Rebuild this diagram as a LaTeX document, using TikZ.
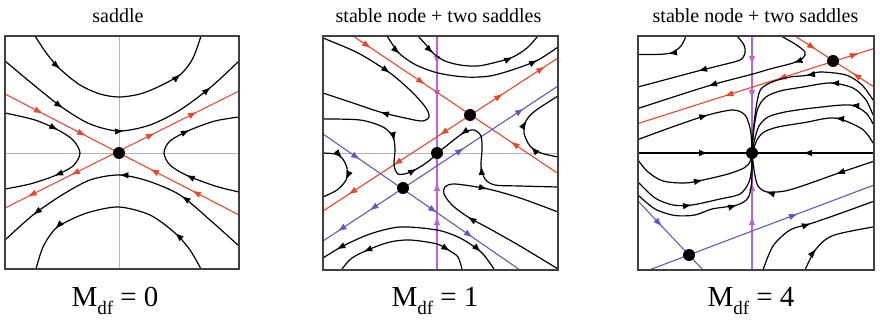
\documentclass[tikz,border=0pt]{standalone}
\usepackage{fontspec}
\setmainfont{Liberation Serif}
\usetikzlibrary{arrows.meta, decorations.markings}
\definecolor{sepRed}{HTML}{E8472B}
\definecolor{sepBlue}{HTML}{6A55C0}
\definecolor{invPurple}{HTML}{B864D4}

\begin{document}
\begin{tikzpicture}[x=1pt, y=-1pt,
  tipf/.style={decoration={markings, mark=at position #1 with {\arrow{Latex[length=9pt, width=6.5pt]}}}},
  tipb/.style={decoration={markings, mark=at position #1 with {\arrow{Latex[reversed, length=9pt, width=6.5pt]}}}},
  fw/.style={postaction={decorate, decoration={markings, reset marks}, tipf/.list={#1}}},
  bw/.style={postaction={decorate, decoration={markings, reset marks}, tipb/.list={#1}}},
  frame/.style={draw=black!75, line width=1.4pt},
  axis/.style={draw=black!28, line width=0.9pt},
  traj/.style={draw=black, line width=1.2pt},
  sepr/.style={draw=sepRed, line width=1.1pt},
  sepb/.style={draw=sepBlue, line width=1.1pt},
  inv/.style={draw=invPurple, line width=1.1pt},
  fp/.style={circle, fill=black, inner sep=0pt, minimum size=12pt},
  ttl/.style={anchor=base, font=\fontsize{20}{24}\selectfont},
  lbl/.style={anchor=base, font=\fontsize{29}{34}\selectfont}
]
\useasboundingbox (0,0) rectangle (880,320);

\node[ttl] (t1) at (118,22.5)   {saddle};
\node[ttl] (t2) at (438.5,22.5) {stable node + two saddles};
\node[ttl] (t3) at (755.5,22.5) {stable node + two saddles};
\node[lbl] (m1) at (115,306) {M\raisebox{-0.3em}{\fontsize{19}{19}\selectfont df} = 0};
\node[lbl] (m2) at (435,306) {M\raisebox{-0.3em}{\fontsize{19}{19}\selectfont df} = 1};
\node[lbl] (m3) at (751,306) {M\raisebox{-0.3em}{\fontsize{19}{19}\selectfont df} = 4};

% saddle
\draw[axis] (119,36) -- (119,269);
\draw[axis] (5,153) -- (239,153);
\draw[sepr, fw={0.162,0.346}, bw={0.654,0.833}] (5,94) -- (239,215);
\draw[sepr, fw={0.641,0.821}, bw={0.132,0.316}] (5,208) -- (239,91);
\draw[traj, fw={0.19,0.80}] plot[smooth] coordinates {(35,36) (47,54) (60,69) (80,85) (100,94) (119,97) (140,94) (160,86) (181,74) (193,58) (201,36)};
\draw[traj, fw={0.269,0.507,0.862}] plot[smooth] coordinates {(5,61) (35,86) (63,108) (90,124) (119,131) (150,125) (180,110) (211,87) (239,61)};
\draw[traj, fw={0.318,0.711}] plot[smooth] coordinates {(5,113) (35,120) (58,130) (73,140) (80,153) (73,166) (54,176) (30,184) (5,189)};
\draw[traj, fw={0.318,0.709}] plot[smooth] coordinates {(239,192) (215,186) (186,175) (170,165) (164,153) (170,141) (190,130) (215,121) (239,117)};
\draw[traj, fw={0.275,0.514,0.864}] plot[smooth] coordinates {(239,246) (210,220) (180,195) (148,181) (119,175) (90,180) (62,195) (33,215) (5,240)};
\draw[traj, fw={0.203,0.797}] plot[smooth] coordinates {(201,269) (190,250) (175,233) (150,215) (119,207) (90,212) (70,220) (55,229) (43,247) (36,269)};
\draw[frame] (5,36) rectangle (239,269);
\node[fp] (s0) at (119,153) {};

% Mdf = 1
\draw[axis] (323,153) -- (558,153);
\draw[inv, fw={0.124,0.269}, bw={0.662,0.808}] (437,36) -- (437,270);
\draw[sepr, fw={0.088,0.351}, bw={0.805}] (353,36) -- (558,173.5);
\draw[sepr, fw={0.766,0.945}, bw={0.14,0.332,0.528}] (323,211) -- (558,58);
\draw[sepb, fw={0.6,0.855}, bw={0.094,0.23}] (323,241) -- (558,86);
\draw[sepb, fw={0.188,0.579,0.761}] (323,134) -- (520,270);
\draw[traj, fw={0.307,0.757}] plot[smooth] coordinates {(323,38) (358,53) (390,73) (412,92) (426,108) (429,117) (422,121) (405,118) (380,112) (350,102) (323,93)};
\draw[traj, fw={0.50,0.84}] plot[smooth] coordinates {(323,119) (360,120) (383,127) (393,137) (395,150) (394,165) (398,174) (408,173) (420,167) (430,160) (437,153)};
\draw[traj, fw={0.165,0.765}] plot[smooth] coordinates {(418,36) (428,47) (434,54) (445,61) (460,65) (478,66) (497,62) (513,57) (527,48) (538,36)};
\draw[traj, fw={0.115,0.875}] plot[smooth] coordinates {(387,36) (395,48) (401,55) (416,65) (438,73) (465,77) (490,76) (515,69) (538,60) (558,47)};
\draw[traj, fw={0.514,0.83}] plot[smooth] coordinates {(558,187) (520,186) (495,185) (485,179) (481,166) (482,150) (481,136) (474,130) (465,132) (455,139) (445,147) (437,153)};
\draw[traj, fw={0.30,0.59}] plot[smooth] coordinates {(558,157) (541,153) (530,146) (524,133) (526,121) (535,111) (558,96)};
\draw[traj, fw={0.397,0.719}] plot[smooth] coordinates {(558,269) (520,246) (490,229) (468,217) (452,205) (444,194) (445,187) (455,184) (488,189) (520,198) (558,212)};
\draw[traj, bw={0.13}, fw={0.888}] plot[smooth] coordinates {(323,258) (343,246) (370,234) (400,227) (437,230) (460,238) (481,252) (494,269)};
\draw[traj, bw={0.26}, fw={0.84}] plot[smooth] coordinates {(342,269) (352,258) (370,249) (390,242) (410,240) (437,244) (450,251) (458,257) (462,269)};
\draw[traj, fw={0.277,0.597}] plot[smooth] coordinates {(323,153) (335,154) (342,158) (347,168) (346,180) (337,190) (323,197)};
\draw[frame] (323,36) rectangle (558,270);
\node[fp] (s1) at (470,115) {};
\node[fp] (n1) at (437,153) {};
\node[fp] (s2) at (403,188) {};

% Mdf = 4
\draw[inv, fw={0.124,0.269}, bw={0.662,0.808}] (752,36) -- (752,270);
\draw[traj, fw={0.297}, bw={0.737}] (638,153) -- (874,153);
\draw[sepr, fw={0.266}, bw={0.823}] (795,36) -- (874,87);
\draw[sepr, fw={0.936}, bw={0.403,0.627}] (638,123.5) -- (874,48.5);
\draw[sepb, fw={0.37}] (638,201) -- (703,270);
\draw[sepb, fw={0.662}] (649,270) -- (874,185);
\draw[traj, fw={0.47}] plot[smooth] coordinates {(686,36) (681,46) (671,53) (655,54.5) (638,54.5)};
\draw[traj, fw={0.536}] plot[smooth] coordinates {(737,36) (744,45) (745,53) (740,60) (720,65.5) (698,71) (668,79) (638,87)};
\draw[traj, fw={0.223,0.647}] plot[smooth] coordinates {(781,36) (795,44) (805,52) (803,58) (793,63) (770,69) (753,74) (708,86) (638,108.5)};
\draw[traj, fw={0.489}] plot[smooth] coordinates {(638,139.5) (675,126) (708,115) (733,110) (745,115) (750,128) (751.5,140) (752,153)};
\draw[traj, fw={0.41}] plot[smooth] coordinates {(873,100) (862,85) (846,75) (820,72) (806,75.5) (790,77) (772,82) (761,89) (757,102) (753.5,128) (752,153)};
\draw[traj, fw={0.316}] plot[smooth] coordinates {(873,115) (866,100) (853,88) (830,83) (803,87) (780,91) (766,97) (758,108) (754,128) (752,153)};
\draw[traj, fw={0.2}] plot[smooth] coordinates {(873,124) (866,113) (850,105) (813,108) (785,112) (768,117) (759,126) (754.5,140) (752,153)};
\draw[traj, fw={0.326}] plot[smooth] coordinates {(873,143) (862,129) (835,118) (805,122.5) (778,127) (764,132) (757,140) (752,153)};
\draw[traj, fw={0.548}] plot[smooth] coordinates {(638,160) (648,172) (663,181) (685,183) (703,180) (728,174) (744,168) (750,162) (752,153)};
\draw[traj, fw={0.397}] plot[smooth] coordinates {(638,182) (655,198) (673,205) (692,205) (720,199) (740,194) (749,182) (752,165) (752,153)};
\draw[traj, fw={0.645}] plot[smooth] coordinates {(638,195) (655,209) (675,215.5) (695,215) (712,209) (737,205) (748,198) (751.5,184) (752,165) (752,153)};
\draw[traj, fw={0.252,0.72}] plot[smooth] coordinates {(873,161.5) (836,174) (805,185) (785,191) (767,192) (758,186) (754.5,173) (752,153)};
\draw[traj, fw={0.52}] plot[smooth] coordinates {(763,270) (773,246) (790,230) (811,223.5) (840,213.5) (873,201.5)};
\draw[traj, fw={0.275}] plot[smooth] coordinates {(805,270) (816,249) (833,235.5) (873,227)};
\draw[frame] (638,36) rectangle (874,270);
\node[fp] (n2) at (752,153) {};
\node[fp] (s3) at (833,61) {};
\node[fp] (s4) at (689,255) {};
\end{tikzpicture}
\end{document}
